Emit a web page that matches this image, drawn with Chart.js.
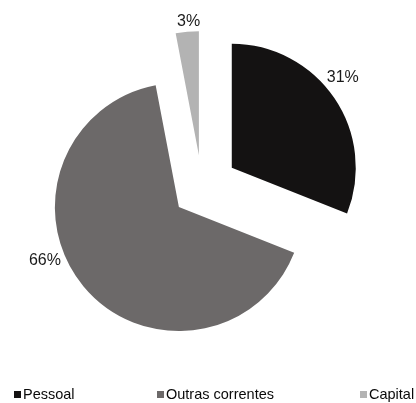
<!DOCTYPE html>
<html>
<head>
<meta charset="utf-8">
<script src="https://cdn.jsdelivr.net/npm/chart.js@4.4.0/dist/chart.umd.min.js"></script>
<style>
  html, body { margin: 0; padding: 0; background: #fff; overflow: hidden; }
  #wrap { position: relative; width: 416px; height: 403px; }
  #graficoDespesa { position: absolute; left: 0; top: 0; }
  #legenda {
    position: absolute; left: 14px; top: 385px;
    display: grid; grid-template-columns: 143px 203px auto;
    font: 14.5px "Liberation Sans", Arial, sans-serif; color: #0a0a0a;
    white-space: nowrap;
  }
  #legenda .item { display: flex; align-items: center; height: 18px; }
  #legenda .caixa { width: 7px; height: 7px; margin-right: 2px; }
</style>
</head>
<body>
<div id="wrap">
  <canvas id="graficoDespesa" width="416" height="403"></canvas>
  <div id="legenda"></div>
</div>
<script>
const categorias = ['Pessoal', 'Outras correntes', 'Capital'];
const percentagens = [31, 66, 3];

// pizza com fatias afastadas do centro, cada uma com o mesmo raio
class PizzaExplodida extends Chart.PieController {
    updateElement(arc, index, properties, mode) {
        const afastamento = (this.getDataset().explosao || [])[index] || 0;
        if (properties.startAngle !== undefined) {
            const meio = properties.startAngle + properties.circumference / 2;
            properties.x += Math.cos(meio) * afastamento;
            properties.y += Math.sin(meio) * afastamento;
        }
        super.updateElement(arc, index, properties, mode);
    }
}
PizzaExplodida.id = 'pizzaExplodida';
PizzaExplodida.defaults = Chart.PieController.defaults;
PizzaExplodida.overrides = Chart.PieController.overrides;
Chart.register(PizzaExplodida);

// etiquetas de percentagem fora de cada fatia
const etiquetasFatias = {
    id: 'etiquetasFatias',
    afterDatasetsDraw(chart, args, opts) {
        const ctx = chart.ctx;
        const meta = chart.getDatasetMeta(0);
        ctx.save();
        ctx.font = opts.font;
        ctx.fillStyle = opts.color;
        ctx.textAlign = 'center';
        ctx.textBaseline = 'middle';
        meta.data.forEach((arc, i) => {
            const p = arc.getProps(['x', 'y', 'startAngle', 'endAngle', 'outerRadius'], true);
            const ang = (p.startAngle + p.endAngle) / 2 + (opts.ajuste[i] || 0) * Math.PI / 180;
            const texto = chart.data.datasets[0].data[i] + '%';
            const w = ctx.measureText(texto).width;
            const dx = Math.cos(ang), dy = Math.sin(ang);
            const r = p.outerRadius + opts.margem + Math.abs(dx) * w / 2 + Math.abs(dy) * opts.altura / 2;
            ctx.fillText(texto, p.x + dx * r, p.y + dy * r);
        });
        ctx.restore();
    }
};

const ctx = document.getElementById('graficoDespesa').getContext('2d');
const grafico = new Chart(ctx, {
    type: 'pizzaExplodida',
    data: {
        labels: categorias,
        datasets: [{
            data: percentagens,
            backgroundColor: ['#141212', '#6c6969', '#b3b3b3'],
            borderWidth: 0,
            explosao: [36, 30, 33]
        }]
    },
    options: {
        responsive: false,
        animation: false,
        radius: 124,
        layout: { padding: { left: 0, right: 12, top: 0, bottom: 27 } },
        plugins: {
            legend: { display: false },
            tooltip: { enabled: false },
            etiquetasFatias: {
                font: '16px "Liberation Sans", Arial, sans-serif',
                color: '#1a1a1a',
                margem: 3,
                altura: 12,
                ajuste: [-5, 18, 1]
            }
        }
    },
    plugins: [etiquetasFatias]
});

// legenda em HTML a partir dos dados do gráfico
const legenda = document.getElementById('legenda');
grafico.data.labels.forEach((nome, i) => {
    const item = document.createElement('div');
    item.className = 'item';
    const caixa = document.createElement('span');
    caixa.className = 'caixa';
    caixa.style.background = grafico.data.datasets[0].backgroundColor[i];
    const texto = document.createElement('span');
    texto.textContent = nome;
    item.appendChild(caixa);
    item.appendChild(texto);
    legenda.appendChild(item);
});
</script>
</body>
</html>
